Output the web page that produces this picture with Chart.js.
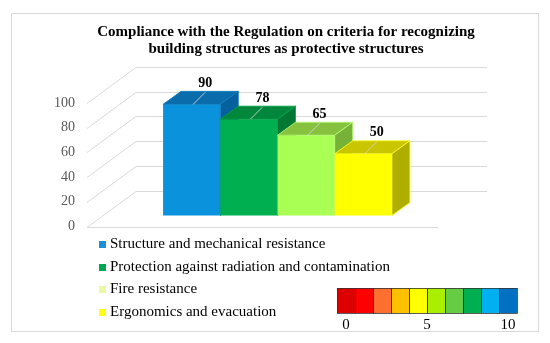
<!DOCTYPE html>
<html>
<head>
<meta charset="utf-8">
<script src="https://cdn.jsdelivr.net/npm/chart.js@4.4.1/dist/chart.umd.min.js"></script>
<style>
  html, body { margin: 0; padding: 0; background: #ffffff; }
  #wrap { width: 550px; height: 343px; }
</style>
</head>
<body>
<div id="wrap"><canvas id="chart" width="550" height="343"></canvas></div>
<script>
// data
const titleLines = [
  'Compliance with the Regulation on criteria for recognizing',
  'building structures as protective structures'
];
const seriesNames = [
  'Structure and mechanical resistance',
  'Protection against radiation and contamination',
  'Fire resistance',
  'Ergonomics and evacuation'
];
const seriesValues = [90, 78, 65, 50];
const yTicks = [0, 20, 40, 60, 80, 100];
const scaleColors = ['#dd0000', '#ff0000', '#ff7030', '#ffc000', '#ffff00', '#aaee00', '#66cc44', '#00b050', '#00b0f0', '#0070c0'];
const scaleTickValues = [0, 5, 10];

// colours of the 3D faces
const frontColors = ['#0a93dc', '#00b050', '#aaff55', '#ffff00'];
const topColors = ['#0b6cab', '#00873b', '#86c23e', '#c9c600'];
const sideColors = ['#07609e', '#007833', '#76b238', '#aead00'];
const edgeColors = ['#0a7cc0', '#00a048', '#b8ff70', '#ffff20'];
const legendColors = ['#1b8fd8', '#00a850', '#eaf9a8', '#ffff10'];

const SERIF = '"Liberation Serif", "Times New Roman", serif';
const WALL_DX = 49, WALL_DY = -36;   // depth of the floor / side wall
const BAR_SHIFT_X = 15, BAR_SHIFT_Y = -11; // bars sit a bit back from the front plane
const BAR_DX = 18, BAR_DY = -13;     // depth of each bar
const GRID = '#d9d9d9';

function line(ctx, x1, y1, x2, y2) {
  ctx.beginPath();
  ctx.moveTo(x1, y1);
  ctx.lineTo(x2, y2);
  ctx.stroke();
}

function poly(ctx, pts, fill, edge) {
  ctx.beginPath();
  ctx.moveTo(pts[0][0], pts[0][1]);
  for (let i = 1; i < pts.length; i++) ctx.lineTo(pts[i][0], pts[i][1]);
  ctx.closePath();
  ctx.fillStyle = fill;
  ctx.fill();
  if (edge) {
    ctx.strokeStyle = edge;
    ctx.lineWidth = 0.8;
    ctx.stroke();
  }
}

const fake3d = {
  id: 'fake3d',
  beforeDraw(chart) {
    const ctx = chart.ctx;
    ctx.save();
    // outer frame
    ctx.strokeStyle = '#d9d9d9';
    ctx.lineWidth = 1;
    ctx.strokeRect(11.5, 13.5, 527, 318);
    // title
    ctx.fillStyle = '#000000';
    ctx.font = 'bold 15px ' + SERIF;
    ctx.textAlign = 'center';
    ctx.textBaseline = 'middle';
    ctx.fillText(titleLines[0], 286, 32);
    ctx.fillText(titleLines[1], 286, 49);
    ctx.restore();
  },
  beforeDatasetsDraw(chart) {
    const ctx = chart.ctx;
    const y = chart.scales.y;
    const { left, right } = chart.chartArea;
    ctx.save();
    ctx.strokeStyle = GRID;
    ctx.lineWidth = 1;
    yTicks.forEach(v => {
      const py = Math.round(y.getPixelForValue(v)) + 0.5;
      line(ctx, left, py, left + WALL_DX, py + WALL_DY);
      line(ctx, left + WALL_DX, py + WALL_DY, right + WALL_DX, py + WALL_DY);
      if (v === 0) line(ctx, left, py, right, py);
    });
    ctx.restore();
  },
  beforeDatasetDraw() {
    return false; // bars are drawn below, one by one, with their faces
  },
  afterDatasetsDraw(chart) {
    const ctx = chart.ctx;
    ctx.save();
    ctx.translate(BAR_SHIFT_X, BAR_SHIFT_Y);
    chart.data.datasets.forEach((ds, i) => {
      const el = chart.getDatasetMeta(i).data[0];
      const { x, y, base, width } = el.getProps(['x', 'y', 'base', 'width'], true);
      const l = x - width / 2, r = x + width / 2;
      el.draw(ctx);
      poly(ctx, [[l, y], [l + BAR_DX, y + BAR_DY], [r + BAR_DX, y + BAR_DY], [r, y]], topColors[i], edgeColors[i]);
      poly(ctx, [[r, y], [r + BAR_DX, y + BAR_DY], [r + BAR_DX, base + BAR_DY], [r, base]], sideColors[i], edgeColors[i]);
    });
    // value labels with leader lines
    chart.data.datasets.forEach((ds, i) => {
      const el = chart.getDatasetMeta(i).data[0];
      const { x, y } = el.getProps(['x', 'y'], true);
      ctx.strokeStyle = 'rgba(210,210,210,0.9)';
      ctx.lineWidth = 1;
      line(ctx, x + 1.5, y, x + 13.5, y - 12);
      ctx.fillStyle = '#000000';
      ctx.font = 'bold 14px ' + SERIF;
      ctx.textAlign = 'center';
      ctx.textBaseline = 'middle';
      ctx.fillText(String(ds.data[0]), x + 13.5, y - 21);
    });
    ctx.restore();
  },
  afterDraw(chart) {
    const ctx = chart.ctx;
    ctx.save();
    // legend
    ctx.font = '15px ' + SERIF;
    ctx.textAlign = 'left';
    ctx.textBaseline = 'middle';
    chart.data.datasets.forEach((ds, i) => {
      const cy = 244 + i * 22.7;
      ctx.fillStyle = legendColors[i];
      ctx.fillRect(99, Math.round(cy) - 3, 7, 7);
      ctx.fillStyle = '#000000';
      ctx.fillText(ds.label, 110, cy);
    });
    // colour scale 0..10
    const x0 = 337, y0 = 288, cw = 18, ch = 25;
    scaleColors.forEach((c, i) => {
      ctx.fillStyle = c;
      ctx.fillRect(x0 + i * cw, y0, cw, ch);
    });
    ctx.strokeStyle = '#333333';
    ctx.lineWidth = 0.8;
    scaleColors.forEach((c, i) => ctx.strokeRect(x0 + i * cw + 0.5, y0 + 0.5, cw, ch));
    ctx.fillStyle = '#000000';
    ctx.textAlign = 'center';
    scaleTickValues.forEach(v => {
      ctx.fillText(String(v), x0 + cw / 2 + v * cw * 0.9, 325);
    });
    ctx.restore();
  }
};

new Chart(document.getElementById('chart'), {
  type: 'bar',
  data: {
    labels: [''],
    datasets: seriesNames.map((name, i) => ({
      label: name,
      data: [seriesValues[i]],
      backgroundColor: frontColors[i],
      borderWidth: 0
    }))
  },
  options: {
    responsive: false,
    animation: false,
    layout: { padding: { left: 0, top: 103, right: 112, bottom: 116.5 } },
    datasets: { bar: { categoryPercentage: 0.652, barPercentage: 1 } },
    scales: {
      x: { display: false },
      y: {
        min: 0,
        max: 100,
        afterFit(scale) { scale.width = 87; },
        grid: { display: false, drawTicks: false },
        border: { display: false },
        ticks: {
          stepSize: 20,
          padding: 12,
          color: '#595959',
          font: { family: SERIF, size: 14 }
        }
      }
    },
    plugins: {
      legend: { display: false },
      title: { display: false },
      tooltip: { enabled: false }
    }
  },
  plugins: [fake3d]
});
</script>
</body>
</html>
